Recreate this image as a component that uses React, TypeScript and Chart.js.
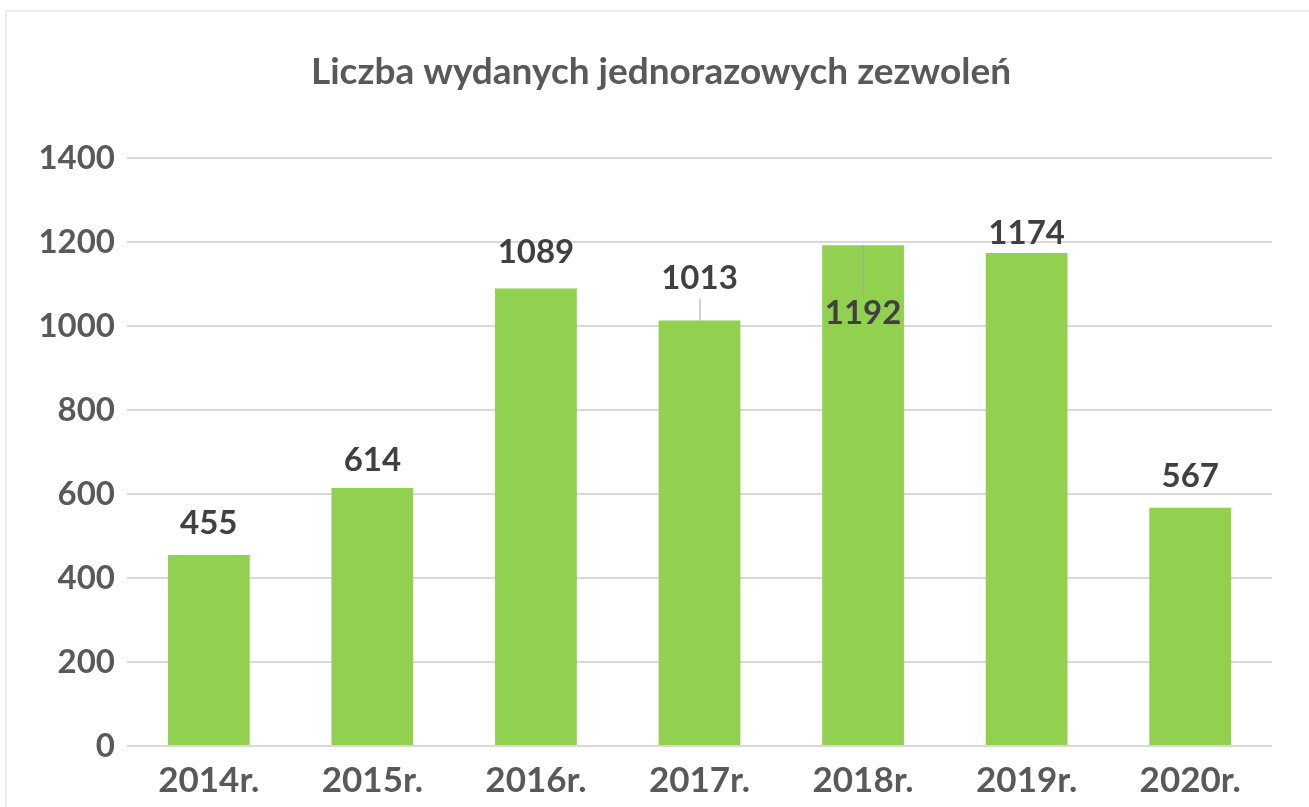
import React, { useEffect, useRef } from "react";
import { Chart, registerables } from "chart.js";

Chart.register(...registerables);

const categories = ["2014r.", "2015r.", "2016r.", "2017r.", "2018r.", "2019r.", "2020r."];
const values = [455, 614, 1089, 1013, 1192, 1174, 567];
const yTicks = [0, 200, 400, 600, 800, 1000, 1200, 1400];
const titleText = "Liczba wydanych jednorazowych zezwoleń";
// label offset above bar top (px); negative = inside bar; leader = draw connector line
const labelOffsets = [32, 28, 36, 42, -68, 20, 32];
const labelLeaders = [false, false, false, true, true, false, false];

const FONT = "Lato, 'Open Sans', sans-serif";

const titlePlugin = {
  id: "customTitle",
  afterDraw(chart: any) {
    const ctx = chart.ctx;
    ctx.save();
    ctx.fillStyle = "#595959";
    ctx.font = `bold 37px ${FONT}`;
    ctx.textAlign = "center";
    ctx.textBaseline = "middle";
    ctx.fillText(titleText, 661, 72);
    ctx.restore();
  },
};

const labelPlugin = {
  id: "barLabels",
  afterDatasetsDraw(chart: any) {
    const ctx = chart.ctx;
    const meta = chart.getDatasetMeta(0);
    ctx.save();
    meta.data.forEach((bar: any, i: number) => {
      const x = bar.x;
      const top = bar.y;
      const ly = top - labelOffsets[i];
      if (labelLeaders[i]) {
        ctx.strokeStyle = "#a6a6a6";
        ctx.lineWidth = 1;
        ctx.beginPath();
        if (labelOffsets[i] > 0) {
          ctx.moveTo(x + 0.5, ly + 20);
          ctx.lineTo(x + 0.5, top);
        } else {
          ctx.moveTo(x + 0.5, top);
          ctx.lineTo(x + 0.5, ly - 18);
        }
        ctx.stroke();
      }
      ctx.fillStyle = "#404040";
      ctx.font = `bold 33px ${FONT}`;
      ctx.textAlign = "center";
      ctx.textBaseline = "middle";
      ctx.fillText(String(values[i]), x, ly);
    });
    ctx.restore();
  },
};

export default function App() {
  const ref = useRef<HTMLCanvasElement>(null);
  useEffect(() => {
    document.body.style.margin = "0";
    document.body.style.overflow = "hidden";
    const chart = new Chart(ref.current!, {
      type: "bar",
      data: {
        labels: categories,
        datasets: [
          {
            data: values,
            backgroundColor: "#92d050",
            borderWidth: 0,
            categoryPercentage: 1,
            barPercentage: 0.5,
          },
        ],
      },
      options: {
        animation: false,
        responsive: false,
        layout: { padding: { left: 0, right: 37, top: 158, bottom: 0 } },
        plugins: {
          legend: { display: false },
          tooltip: { enabled: false },
          title: { display: false },
        },
        scales: {
          x: {
            grid: { display: false },
            border: { display: false },
            ticks: {
              color: "#595959",
              font: { family: FONT, size: 35, weight: "bold" },
              padding: 6,
              maxRotation: 0,
            },
            afterFit: (s: any) => {
              s.height = 61;
            },
          },
          y: {
            min: 0,
            max: 1400,
            afterBuildTicks: (s: any) => {
              s.ticks = yTicks.map((v) => ({ value: v }));
            },
            grid: { color: "#d9d9d9", lineWidth: 2, drawTicks: false },
            border: { display: false },
            ticks: {
              color: "#595959",
              font: { family: FONT, size: 33, weight: "bold" },
              padding: 12,
              callback: (v: any) => String(v),
            },
            afterFit: (s: any) => {
              s.width = 127;
            },
          },
        },
      },
      plugins: [labelPlugin, titlePlugin],
    });
    return () => chart.destroy();
  }, []);
  return (
    <div style={{ position: "relative", width: 1309, height: 807, background: "#fff" }}>
      <div
        style={{
          position: "absolute",
          left: 5,
          top: 10,
          right: 0,
          bottom: 0,
          borderLeft: "2px solid #ececec",
          borderTop: "2px solid #ececec",
          pointerEvents: "none",
        }}
      />
      <canvas ref={ref} width={1309} height={807} style={{ display: "block" }} />
    </div>
  );
}
